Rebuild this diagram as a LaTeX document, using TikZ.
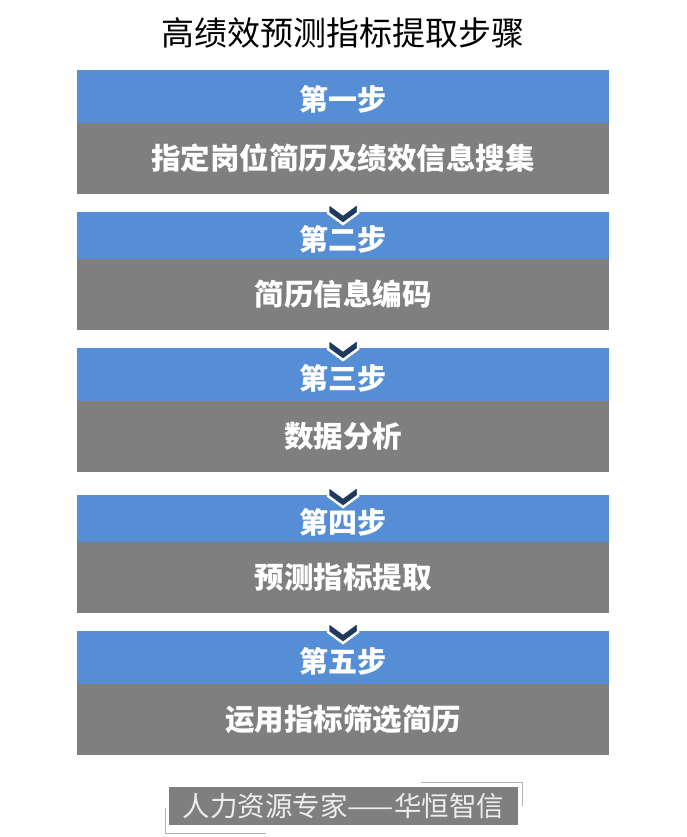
\documentclass[tikz,border=0pt]{standalone}
\usepackage{fontspec}
\usepackage{xcolor}
\usetikzlibrary{positioning}
\newfontfamily\cjk{Noto Sans CJK SC}
\definecolor{stepblue}{HTML}{558ED5}
\definecolor{stepgray}{HTML}{7F7F7F}
\definecolor{chevnavy}{HTML}{1F3A60}

\begin{document}
\begin{tikzpicture}[x=1pt, y=-1pt, every node/.style = {inner sep=0pt, outer sep=0pt},
  head/.style = {rectangle, fill=stepblue, minimum width=532pt, anchor=north, text=white, text height=34pt, text depth=5pt, font=\cjk\bfseries\fontsize{29}{31}\selectfont},
  body/.style = {rectangle, fill=stepgray, minimum width=532pt, minimum height=71pt, text=white, font=\cjk\bfseries\fontsize{29.5}{31}\selectfont},
  chev/.style = {fill=chevnavy, draw=white, line width=2.5pt, line join=miter},]

\useasboundingbox (0,0) rectangle (686,837);

\node (title) [font=\cjk\fontsize{33}{35}\selectfont] at (343,33) {高绩效预测指标提取步骤};

\node (step1head) [head, minimum height=53pt] at (343,70) {第一步};
\node (step1body) [body, below=0pt of step1head] {指定岗位简历及绩效信息搜集};
\node (step2head) [head, minimum height=47pt] at (343,212) {第二步};
\node (step2body) [body, below=0pt of step2head] {简历信息编码};
\node (step3head) [head, minimum height=53pt] at (343,348) {第三步};
\node (step3body) [body, below=0pt of step3head] {数据分析};
\node (step4head) [head, minimum height=47pt] at (343,495) {第四步};
\node (step4body) [body, below=0pt of step4head] {预测指标提取};
\node (step5head) [head, minimum height=53pt] at (343,631) {第五步};
\node (step5body) [body, below=0pt of step5head] {运用指标筛选简历};

\draw[chev] (step2head.north) ++(-15,-9) -- ++(15,11) -- ++(15,-11) -- ++(0,10) -- ++(-15,11) -- ++(-15,-11) -- cycle;
\draw[chev] (step3head.north) ++(-15,-9) -- ++(15,11) -- ++(15,-11) -- ++(0,10) -- ++(-15,11) -- ++(-15,-11) -- cycle;
\draw[chev] (step4head.north) ++(-15,-9) -- ++(15,11) -- ++(15,-11) -- ++(0,10) -- ++(-15,11) -- ++(-15,-11) -- cycle;
\draw[chev] (step5head.north) ++(-15,-9) -- ++(15,11) -- ++(15,-11) -- ++(0,10) -- ++(-15,11) -- ++(-15,-11) -- cycle;

\node (tag) [rectangle, fill=stepgray, minimum width=349pt, minimum height=38pt, text=white!93!black, font=\cjk\fontsize{27.5}{29}\selectfont] at (343.5,806) {人力资源专家——华恒智信};
\draw[gray!60, line width=1pt] (421,782) -- (522,782) -- (522,806);
\draw[gray!60, line width=1pt] (165,808) -- (165,833) -- (266,833);
\end{tikzpicture}
\end{document}
